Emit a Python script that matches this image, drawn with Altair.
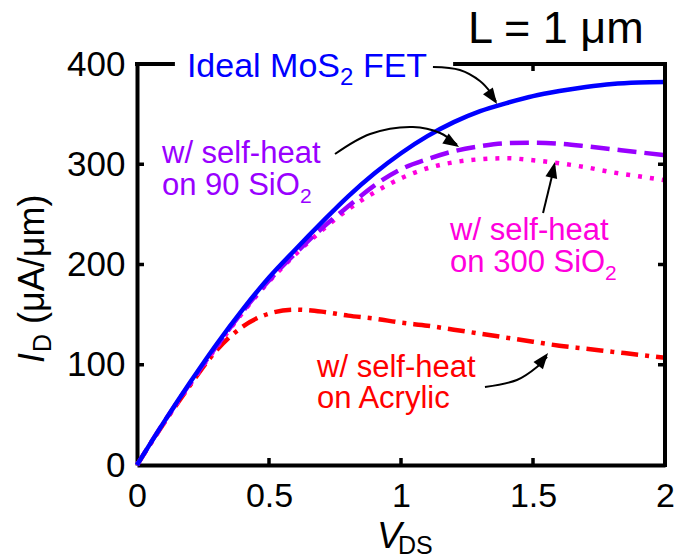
import altair as alt
import pandas as pd

FONT = "Liberation Sans"

# Drain voltage sweep (V) and drain current (uA/um) for each case
vds = [0.0, 0.1, 0.2, 0.3, 0.4, 0.5, 0.6, 0.7, 0.8, 0.9, 1.0,
       1.1, 1.2, 1.3, 1.4, 1.5, 1.6, 1.7, 1.8, 1.9, 2.0]
id_ideal = [0, 42, 82, 120, 155, 187, 215, 242, 268, 291, 311,
            328, 342, 353, 361, 368, 373, 377, 380, 381.5, 382]
id_sio2_90 = [0, 42, 81, 118, 153, 184, 211, 236, 258, 279, 295,
              305, 313, 318, 321, 321.5, 320.5, 318, 315, 312, 309]
id_sio2_300 = [0, 41, 80, 117, 152, 183, 210, 234, 255, 272, 286,
               296, 302, 305, 306, 304, 301, 297, 292, 288, 284]
id_acrylic = [0, 41, 79, 114, 138, 151, 155, 153, 149, 146, 142,
              139, 135, 131, 127, 123, 119, 116, 113, 110, 107]

x_tick_values = [0, 0.5, 1, 1.5, 2]
y_tick_values = [0, 100, 200, 300, 400]
bottom_ticks = [0.5, 1, 1.5]
top_ticks = [1.5]            # the others sit behind the "Ideal" label box
side_ticks = [100, 200, 300]

BLUE, PURPLE, MAGENTA, RED = "#0000FF", "#9900FF", "#FF00DD", "#FF0000"

W, H = 528, 401
XS = alt.Scale(domain=[0, 2], nice=False, zero=False)
YS = alt.Scale(domain=[0, 400], nice=False, zero=False)
TICK_DX = 7 / (W / 2)      # inward tick length in x data units
TICK_DY = 7 * 400 / H      # inward tick length in y data units


def xenc(field):
    return alt.X(field, type="quantitative", scale=XS, title=None)


def yenc(field):
    return alt.Y(field, type="quantitative", scale=YS, title=None)


def curve(values, color, dash=None):
    d = pd.DataFrame({"vds": vds, "id": values})
    kw = dict(color=color, strokeWidth=4.5, interpolate="monotone", strokeCap="butt")
    if dash:
        kw["strokeDash"] = dash
    return alt.Chart(d).mark_line(**kw).encode(x=xenc("vds"), y=yenc("id"))


def text(x, y, s, color="black", size=31, dx=0, dy=0, italic=False, angle=None):
    d = pd.DataFrame({"x": [x], "y": [y], "t": [s]})
    kw = dict(align="left", baseline="alphabetic", font=FONT, fontSize=size,
              color=color, dx=dx, dy=dy)
    if italic:
        kw["fontStyle"] = "italic"
    if angle is not None:
        kw["angle"] = angle
    return alt.Chart(d).mark_text(**kw).encode(x=xenc("x"), y=yenc("y"), text="t:N")


# Main axes (left and bottom) carry the tick labels and the thick domain lines
axes = alt.Chart(pd.DataFrame({"vds": [0, 2], "id": [0, 400]})).mark_point(opacity=0).encode(
    x=alt.X("vds:Q", scale=XS, title=None, axis=alt.Axis(
        values=x_tick_values, format="~g", title=None, grid=False, ticks=False, tickSize=0,
        domainWidth=4, domainColor="black", labelFont=FONT, labelFontSize=34,
        labelColor="black", labelPadding=14, labelFlush=False)),
    y=alt.Y("id:Q", scale=YS, title=None, axis=alt.Axis(
        values=y_tick_values, format="d", title=None, grid=False, ticks=False, tickSize=0,
        domainWidth=4, domainColor="black", labelFont=FONT, labelFontSize=35,
        labelColor="black", labelPadding=12, labelFlush=False)),
)

# Top and right frame; the top edge is interrupted behind the "Ideal" label
frame_top = alt.Chart(pd.DataFrame({"a": [0, 1.205], "b": [0.136, 2], "y": [400, 400]})).mark_rule(
    color="black", strokeWidth=4, strokeCap="square").encode(x=xenc("a"), x2="b:Q", y=yenc("y"))
frame_right = alt.Chart(pd.DataFrame({"x": [2], "a": [0], "b": [400]})).mark_rule(
    color="black", strokeWidth=4, strokeCap="square").encode(x=xenc("x"), y=yenc("a"), y2="b:Q")

# Inward tick marks on all four sides
xt = pd.DataFrame({"x": bottom_ticks + top_ticks,
                   "a": [0] * len(bottom_ticks) + [400 - TICK_DY] * len(top_ticks),
                   "b": [TICK_DY] * len(bottom_ticks) + [400] * len(top_ticks)})
yt = pd.DataFrame({"y": side_ticks * 2,
                   "a": [0] * 3 + [2 - TICK_DX] * 3,
                   "b": [TICK_DX] * 3 + [2] * 3})
ticks_x = alt.Chart(xt).mark_rule(color="black", strokeWidth=3.5).encode(
    x=xenc("x"), y=yenc("a"), y2="b:Q")
ticks_y = alt.Chart(yt).mark_rule(color="black", strokeWidth=3.5).encode(
    y=yenc("y"), x=xenc("a"), x2="b:Q")

# Annotation arrows (curved shafts + filled heads)
arrow_pts = pd.DataFrame({
    "arrow": [1] * 5 + [2] * 5 + [3] * 2 + [4] * 4,
    "k": list(range(5)) + list(range(5)) + list(range(2)) + list(range(4)),
    "x": [1.121, 1.223, 1.299, 1.341, 1.360,
          0.750, 0.883, 1.045, 1.148, 1.212,
          1.538, 1.581,
          1.318, 1.439, 1.515, 1.553],
    "y": [397.0, 394.0, 383.0, 371.0, 362.5,
          310.2, 330.2, 337.2, 331.2, 319.5,
          251.4, 298.0,
          77.8, 84.8, 97.8, 108.0],
})
arrow_heads = pd.DataFrame({
    "x": [1.364, 1.220, 1.583, 1.557],
    "y": [360.1, 317.2, 302.2, 111.7],
    "angle": [145, 122, 13, 38],
})
shafts = alt.Chart(arrow_pts).mark_line(color="black", strokeWidth=2, interpolate="catmull-rom").encode(
    x=xenc("x"), y=yenc("y"), detail="arrow:N", order="k:Q")
heads = alt.Chart(arrow_heads).mark_point(
    shape="M0,0L-0.75,2L0.75,2Z", filled=True, fill="black", strokeWidth=0, opacity=1, size=256).encode(
    x=xenc("x"), y=yenc("y"), angle=alt.Angle("angle:Q", scale=None))

labels = [
    text(1.254, 421.0, "L = 1 μm", size=45),
    # Ideal MoS2 FET
    text(0.189, 387.0, "Ideal MoS", BLUE, size=34),
    text(0.189, 387.0, "2", BLUE, size=24, dx=153, dy=8),
    text(0.189, 387.0, "FET", BLUE, size=34, dx=176),
    # 90 nm SiO2
    text(0.0947, 301.2, "w/ self-heat", PURPLE),
    text(0.0947, 269.3, "on 90 SiO", PURPLE),
    text(0.0947, 269.3, "2", PURPLE, size=21, dx=138, dy=8),
    # 300 nm SiO2
    text(1.186, 224.4, "w/ self-heat", MAGENTA),
    text(1.186, 192.5, "on 300 SiO", MAGENTA),
    text(1.186, 192.5, "2", MAGENTA, size=21, dx=155, dy=8),
    # Acrylic
    text(0.682, 87.8, "w/ self-heat", RED),
    text(0.682, 56.9, "on Acrylic", RED),
    # axis titles
    text(0.909, -83.0, "V", size=37, italic=True),
    text(0.909, -83.0, "DS", size=25, dx=21, dy=6),
    text(-0.352, 101.7, "I", size=36, italic=True, angle=270),
    text(-0.352, 101.7, "D", size=25, dx=11, dy=7, angle=270),
    text(-0.352, 101.7, "(μA/μm)", size=36, dx=39, angle=270),
]

chart = alt.layer(
    axes,
    curve(id_acrylic, RED, [17, 7, 4, 7]),
    curve(id_sio2_300, MAGENTA, [4, 8]),
    curve(id_sio2_90, PURPLE, [19, 8]),
    curve(id_ideal, BLUE),
    frame_top, frame_right, ticks_x, ticks_y,
    shafts, heads,
    *labels,
).properties(
    width=W, height=H,
    padding={"left": 137, "top": 64, "right": 21, "bottom": 94},
    autosize=alt.AutoSizeParams(type="none"),
    background="white",
).configure_view(stroke=None)

chart.save("out.html", embed_options={"renderer": "svg", "actions": False})
